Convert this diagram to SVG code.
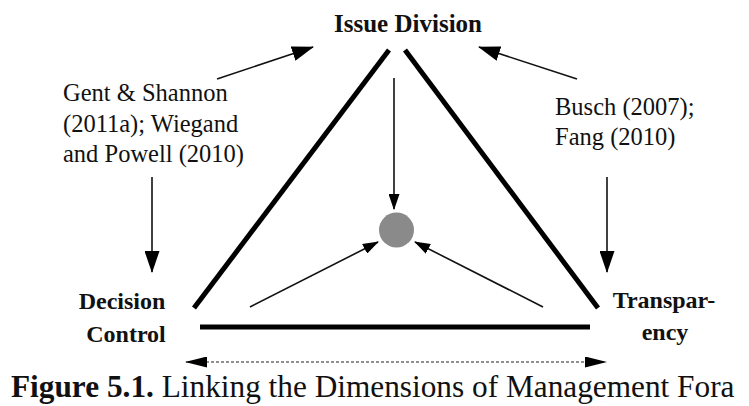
<svg xmlns="http://www.w3.org/2000/svg" width="749" height="406" viewBox="0 0 749 406">
<style>
.t{font-family:"Liberation Serif","Times New Roman",serif;fill:#111}
.b{font-weight:bold}
.lab{font-size:24.5px}
.nd{font-size:24px;font-weight:bold}
.side{stroke:#000;stroke-width:5;fill:none}
.arr{stroke:#111;stroke-width:1.6;fill:none}
.dot{stroke:#222;stroke-width:1.2;stroke-dasharray:3 2;fill:none}
</style>
<defs>
<marker id="big" markerUnits="userSpaceOnUse" markerWidth="22" markerHeight="15" refX="21" refY="7.5" orient="auto"><path d="M0,0 L22,7.5 L0,15 z" fill="#000"/></marker>
<marker id="sm" markerUnits="userSpaceOnUse" markerWidth="16" markerHeight="11" refX="15" refY="5.5" orient="auto"><path d="M0,0 L16,5.5 L0,11 z" fill="#000"/></marker>
<marker id="dt" markerUnits="userSpaceOnUse" markerWidth="22" markerHeight="11" refX="21" refY="5.5" orient="auto"><path d="M0,0 L22,5.5 L0,11 z" fill="#000"/></marker>
<marker id="dts" markerUnits="userSpaceOnUse" markerWidth="22" markerHeight="11" refX="1" refY="5.5" orient="auto"><path d="M22,0 L0,5.5 L22,11 z" fill="#000"/></marker>
</defs>
<rect width="749" height="406" fill="#fff"/>
<g id="connectors">
<line class="side" x1="389" y1="50" x2="194" y2="308"/>
<line class="side" x1="405" y1="50" x2="598" y2="308"/>
<line class="side" x1="200" y1="327" x2="590" y2="327"/>
<line class="arr" x1="217" y1="79" x2="313" y2="47" marker-end="url(#big)"/>
<line class="arr" x1="577" y1="79" x2="479" y2="47" marker-end="url(#big)"/>
<line class="arr" x1="152" y1="177" x2="152" y2="272" marker-end="url(#big)"/>
<line class="arr" x1="607" y1="177" x2="607" y2="272" marker-end="url(#big)"/>
<line class="arr" x1="394" y1="78" x2="394" y2="209" marker-end="url(#sm)"/>
<line class="arr" x1="250" y1="307" x2="378" y2="242" marker-end="url(#sm)"/>
<line class="arr" x1="543" y1="307" x2="415" y2="242" marker-end="url(#sm)"/>
<line class="dot" x1="186" y1="362" x2="606" y2="362" marker-start="url(#dts)" marker-end="url(#dt)"/>
</g>
<g id="center"><circle cx="396.5" cy="230" r="17.5" fill="#8a8a8a"/></g>
<g id="issue-division"><text class="t b" x="408" y="32" font-size="25" text-anchor="middle">Issue Division</text></g>
<g id="decision-control"><text class="t nd" text-anchor="middle"><tspan x="122" y="309">Decision</tspan><tspan x="126" y="342">Control</tspan></text></g>
<g id="transparency"><text class="t nd" text-anchor="middle"><tspan x="664" y="308">Transpar-</tspan><tspan x="665" y="340">ency</tspan></text></g>
<g id="ref-left"><text class="t lab"><tspan x="63" y="101">Gent &amp; Shannon</tspan><tspan x="63" y="132">(2011a); Wiegand</tspan><tspan x="63" y="162">and Powell (2010)</tspan></text></g>
<g id="ref-right"><text class="t lab" font-size="25"><tspan x="555" y="115">Busch (2007);</tspan><tspan x="555" y="145">Fang (2010)</tspan></text></g>
<g id="caption"><text class="t" x="11" y="397" font-size="31.3"><tspan class="b">Figure 5.1.</tspan> Linking the Dimensions of Management Fora</text></g>
</svg>
